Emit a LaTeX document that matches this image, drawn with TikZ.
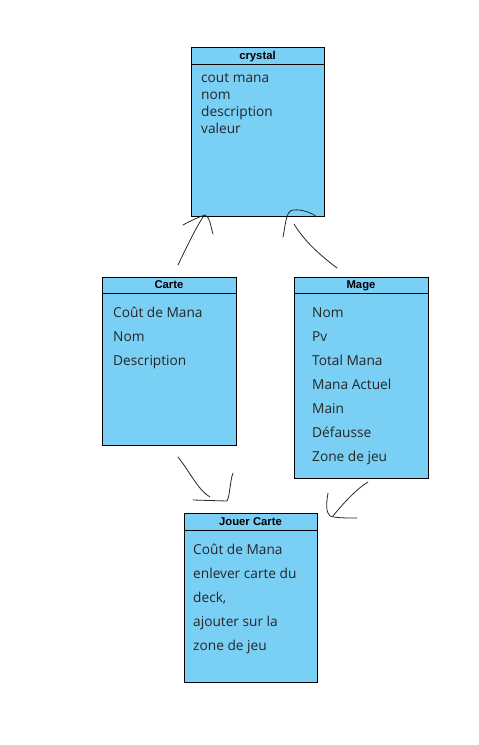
\documentclass[tikz,border=0pt]{standalone}
\usepackage{fontspec}
\setmainfont{Open Sans}
\newfontfamily\titlefont{Liberation Sans}
\definecolor{boxblue}{RGB}{122,207,245}
\definecolor{penink}{RGB}{40,40,40}
\usetikzlibrary{calc}
\begin{document}
\begin{tikzpicture}[x=1pt,y=-1pt,
  classbox/.style={draw=black, fill=boxblue, line width=0.9pt, inner sep=0pt, anchor=north west},
  titletext/.style={font=\titlefont\bfseries\fontsize{11.3}{13}\selectfont, inner sep=0pt, anchor=base},
  attr/.style={font=\fontsize{13.7}{15}\selectfont, text=black!85, inner sep=0pt, anchor=base west},
  pen/.style={draw=penink, line width=0.8pt, line cap=round, line join=round}]
\useasboundingbox (0,0) rectangle (479,745);
\fill[white] (0,0) rectangle (479,745);

% crystal
\node[classbox, minimum width=133pt, minimum height=169pt] (crystal) at (191,47) {};
\draw[line width=0.9pt] ($(crystal.north west)+(0,17)$) -- ($(crystal.north east)+(0,17)$);
\node[titletext] (crystalT) at (257.5,59) {crystal};
\node[attr] (c1) at (201,82.5) {cout mana};
\node[attr] (c2) at (201,99) {nom};
\node[attr] (c3) at (201,116) {description};
\node[attr] (c4) at (201,133) {valeur};

% Carte
\node[classbox, minimum width=134pt, minimum height=168pt] (carte) at (102,277) {};
\draw[line width=0.9pt] ($(carte.north west)+(0,16)$) -- ($(carte.north east)+(0,16)$);
\node[titletext] (carteT) at (169,288.5) {Carte};
\node[attr] (k1) at (113,317.5) {Coût de Mana};
\node[attr] (k2) at (113,341.5) {Nom};
\node[attr] (k3) at (113,365.5) {Description};

% Mage
\node[classbox, minimum width=134pt, minimum height=201pt] (mage) at (294,277) {};
\draw[line width=0.9pt] ($(mage.north west)+(0,16)$) -- ($(mage.north east)+(0,16)$);
\node[titletext] (mageT) at (361,288.5) {Mage};
\node[attr] (m1) at (312,317.5) {Nom};
\node[attr] (m2) at (312,341.5) {Pv};
\node[attr] (m3) at (312,365.5) {Total Mana};
\node[attr] (m4) at (312,389.5) {Mana Actuel};
\node[attr] (m5) at (312,413.5) {Main};
\node[attr] (m6) at (312,437.5) {Défausse};
\node[attr] (m7) at (312,461.5) {Zone de jeu};

% Jouer Carte
\node[classbox, minimum width=133pt, minimum height=169pt] (jouer) at (184,513) {};
\draw[line width=0.9pt] ($(jouer.north west)+(0,17)$) -- ($(jouer.north east)+(0,17)$);
\node[titletext] (jouerT) at (250.5,525.5) {Jouer Carte};
\node[attr] (j1) at (193,554.5) {Coût de Mana};
\node[attr] (j2) at (193,578.5) {enlever carte du};
\node[attr] (j3) at (193,602.5) {deck,};
\node[attr] (j4) at (193,626.5) {ajouter sur la};
\node[attr] (j5) at (193,650.5) {zone de jeu};

% hand-drawn arrows: Carte -> crystal
\coordinate (a1tip) at (205,215);
\draw[pen] (178,265) .. controls (189,242) and (197,226) .. (203,217);
\draw[pen] (183,225) .. controls (192,220) and (199,217) .. (a1tip);
\draw[pen] (a1tip) .. controls (210,217) and (210,224) .. (213,234);

% Mage -> crystal
\draw[pen] (283,237) .. controls (286,222) and (286,211) .. (293,210) .. controls (302,209) and (312,213) .. (317,217);
\draw[pen] (294,224) .. controls (305,242) and (320,255) .. (337,268);

% Carte -> Jouer Carte
\draw[pen] (178,457) .. controls (190,472) and (198,490) .. (210,497);
\draw[pen] (193,500) -- (227,501) .. controls (230,496) and (230,480) .. (233,473);

% Mage -> Jouer Carte
\draw[pen] (368,482) .. controls (355,490) and (342,505) .. (333,516);
\draw[pen] (328,493) .. controls (326,505) and (326,512) .. (330,516) .. controls (336,518) and (345,518) .. (357,518);
\end{tikzpicture}
\end{document}
